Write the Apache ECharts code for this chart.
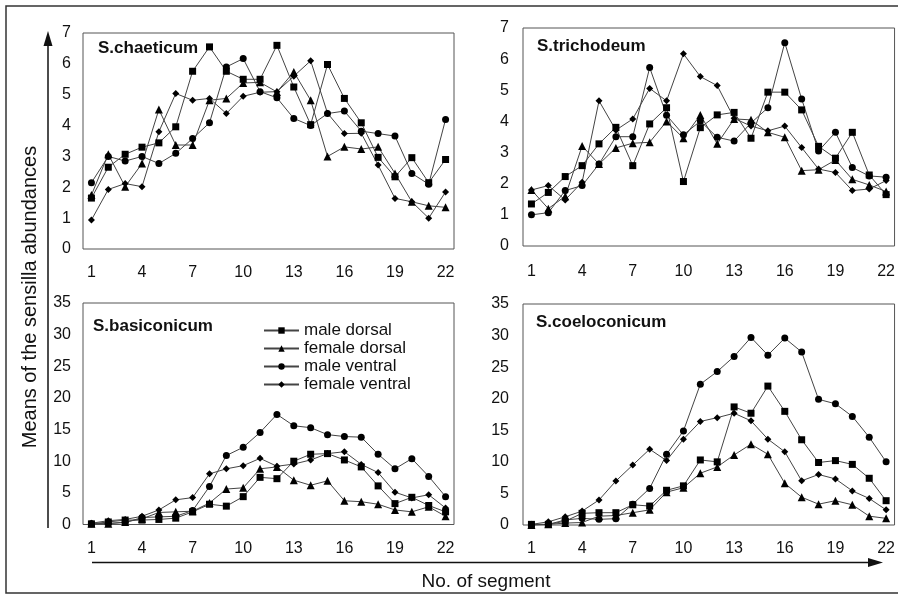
<!DOCTYPE html>
<html>
<head>
<meta charset="utf-8">
<script src="https://cdn.jsdelivr.net/npm/echarts@6/dist/echarts.min.js"></script>
<style>
html,body{margin:0;padding:0;background:#fff;}
#chart{width:898px;height:596px;}
</style>
</head>
<body>
<div id="chart"></div>
<script>
var segments = ['1','2','3','4','5','6','7','8','9','10','11','12','13','14','15','16','17','18','19','20','21','22'];
var seriesNames = ['male dorsal','female dorsal','male ventral','female ventral'];
var panelTitles = ['S.chaeticum','S.trichodeum','S.basiconicum','S.coeloconicum'];

// S.chaeticum
var chaetMaleDorsal   = [1.65,2.65,3.07,3.3,3.44,3.96,5.76,6.55,5.76,5.5,5.5,6.6,5.25,4.03,5.98,4.88,4.09,2.97,2.34,2.96,2.15,2.9];
var chaetFemaleDorsal = [1.75,3.07,2.02,2.77,4.52,3.37,3.37,4.82,4.88,5.38,5.4,5.09,5.74,4.82,3.0,3.31,3.24,3.31,2.45,1.53,1.4,1.35];
var chaetMaleVentral  = [2.15,3.0,2.85,3.0,2.77,3.1,3.58,4.09,5.9,6.17,5.1,4.9,4.23,4.0,4.39,4.47,3.82,3.74,3.66,2.45,2.1,4.2];
var chaetFemaleVentral= [0.94,1.93,2.12,2.02,3.8,5.04,4.82,4.88,4.39,4.95,5.08,5.1,5.6,6.1,4.4,3.74,3.75,2.72,1.64,1.53,1.0,1.85];

// S.trichodeum
var trichMaleDorsal   = [1.35,1.72,2.23,2.58,3.28,3.81,2.58,3.92,4.44,2.07,3.8,4.21,4.29,3.46,4.94,4.94,4.37,3.2,2.82,3.65,2.28,1.65];
var trichFemaleDorsal = [1.8,1.2,1.6,3.21,2.63,3.15,3.3,3.33,4.0,3.46,4.21,3.28,4.08,4.05,3.65,3.49,2.42,2.45,2.76,2.14,1.96,1.75];
var trichMaleVentral  = [1.0,1.07,1.78,1.94,2.63,3.51,3.51,5.73,4.2,3.57,4.01,3.49,3.37,3.95,4.44,6.53,4.72,3.05,3.65,2.52,2.25,2.21];
var trichFemaleVentral= [1.8,1.94,1.48,2.05,4.66,3.72,4.08,5.06,4.66,6.17,5.44,5.15,4.1,3.85,3.7,3.85,3.16,2.47,2.36,1.78,1.83,2.1];

// S.basiconicum
var basicMaleDorsal   = [0.1,0.4,0.7,0.7,0.8,1.0,2.0,3.2,2.9,4.4,7.45,7.24,10.0,11.1,11.2,10.2,9.1,6.1,3.3,4.3,3.0,2.0];
var basicFemaleDorsal = [0.1,0.1,0.4,0.9,1.9,2.0,2.1,3.4,5.6,5.8,8.8,9.1,7.0,6.2,6.9,3.75,3.6,3.2,2.3,2.0,2.8,1.3];
var basicMaleVentral  = [0.1,0.2,0.3,1.1,1.2,1.3,2.2,6.0,10.9,12.2,14.55,17.4,15.6,15.3,14.2,13.9,13.8,11.1,8.8,10.4,7.6,4.4];
var basicFemaleVentral= [0.2,0.6,0.8,1.3,2.3,3.9,4.25,8.0,8.8,9.3,10.45,9.2,9.55,10.2,11.2,11.5,9.5,8.2,5.1,4.2,4.7,2.6];

// S.coeloconicum
var coelMaleDorsal    = [0.1,0.1,0.6,1.85,1.95,1.95,3.2,3.0,5.5,6.2,10.3,10.0,18.7,17.7,22.0,18.0,13.5,9.9,10.2,9.6,7.4,3.85];
var coelFemaleDorsal  = [0.0,0.1,0.3,0.4,1.4,1.5,1.95,2.4,5.2,5.9,8.2,9.2,11.1,12.8,11.2,6.6,4.4,3.3,3.85,3.2,1.4,1.05];
var coelMaleVentral   = [0.0,0.1,0.8,1.05,0.9,1.0,3.3,5.8,11.2,14.9,22.3,24.3,26.7,29.7,26.9,29.6,27.4,19.9,19.2,17.2,13.9,10.0];
var coelFemaleVentral = [0.1,0.5,1.3,2.2,3.96,6.97,9.5,12.0,10.2,13.6,16.4,17.0,17.7,16.5,13.6,11.6,7.0,8.0,7.3,5.4,4.2,2.4];

var yMaxTop = 7, yStepTop = 1;
var yMaxBottom = 35, yStepBottom = 5;

var panelData = [
  [chaetMaleDorsal, chaetFemaleDorsal, chaetMaleVentral, chaetFemaleVentral],
  [trichMaleDorsal, trichFemaleDorsal, trichMaleVentral, trichFemaleVentral],
  [basicMaleDorsal, basicFemaleDorsal, basicMaleVentral, basicFemaleVentral],
  [coelMaleDorsal, coelFemaleDorsal, coelMaleVentral, coelFemaleVentral]
];

var FONT = '"Liberation Sans", Arial, sans-serif';
var grids = [
  {left: 83, top: 33, width: 371, height: 216},
  {left: 523, top: 28, width: 372, height: 218},
  {left: 83, top: 303, width: 371, height: 221.5},
  {left: 523, top: 304, width: 372, height: 221}
];
var symbols = ['rect','triangle','circle','diamond'];
var symbolSizes = [7,8,7,7];

var option = {
  backgroundColor: '#fff',
  animation: false,
  grid: grids.map(function(g){
    return {left: g.left, top: g.top, width: g.width, height: g.height, show: true,
      borderColor: '#555', borderWidth: 1, backgroundColor: 'transparent', containLabel: false};
  }),
  xAxis: grids.map(function(g, i){
    return {type: 'category', gridIndex: i, data: segments, boundaryGap: true,
      axisLine: {show: false}, axisTick: {show: false}, splitLine: {show: false},
      axisLabel: {interval: 2, color: '#111', fontFamily: FONT, fontSize: 16, margin: (i === 1 ? 18 : 16)}};
  }),
  yAxis: grids.map(function(g, i){
    var top = i < 2;
    return {type: 'value', gridIndex: i, min: 0, max: top ? yMaxTop : yMaxBottom,
      interval: top ? yStepTop : yStepBottom,
      axisLine: {show: false}, axisTick: {show: false}, splitLine: {show: false},
      axisLabel: {color: '#111', fontFamily: FONT, fontSize: 16, margin: (i % 2 === 0 ? 12 : 14)}};
  }),
  title: panelTitles.map(function(t, i){
    var pos = [[98, 40],[537, 38],[93, 318],[536, 314]][i];
    return {text: t, left: pos[0], top: pos[1], padding: 0,
      textStyle: {fontFamily: FONT, fontSize: 17, fontWeight: 'bold', color: '#111'}};
  }),
  legend: {
    data: seriesNames, orient: 'vertical', left: 263, top: 322,
    itemWidth: 35, itemHeight: 8, itemGap: 1,
    textStyle: {fontFamily: FONT, fontSize: 17, color: '#111', lineHeight: 17},
    padding: 0
  },
  series: [],
  graphic: [
    {type: 'rect', shape: {x: 6, y: 6, width: 910, height: 587}, style: {fill: 'none', stroke: '#333', lineWidth: 1.5}, silent: true},
    {type: 'line', shape: {x1: 48, y1: 528, x2: 48, y2: 42}, style: {stroke: '#111', lineWidth: 1.5}},
    {type: 'polygon', shape: {points: [[48, 31], [43.5, 46], [52.5, 46]]}, style: {fill: '#111'}},
    {type: 'line', shape: {x1: 92, y1: 562.5, x2: 872, y2: 562.5}, style: {stroke: '#111', lineWidth: 1.5}},
    {type: 'polygon', shape: {points: [[883, 562.5], [868, 558], [868, 567]]}, style: {fill: '#111'}},
    {type: 'text', x: 30, y: 297, rotation: Math.PI / 2,
      style: {text: 'Means of the sensilla abundances', fontFamily: FONT, fontSize: 20, fill: '#111', align: 'center', verticalAlign: 'middle'}},
    {type: 'text', x: 486, y: 582,
      style: {text: 'No. of segment', fontFamily: FONT, fontSize: 19, fill: '#111', align: 'center', verticalAlign: 'middle'}}
  ]
};

panelData.forEach(function(group, p){
  group.forEach(function(values, s){
    option.series.push({
      type: 'line', name: seriesNames[s], xAxisIndex: p, yAxisIndex: p,
      data: values, symbol: symbols[s], symbolSize: symbolSizes[s], showAllSymbol: true,
      lineStyle: {color: '#444', width: 1}, itemStyle: {color: '#000'},
      emphasis: {disabled: true}, z: 3
    });
  });
});

var chart = echarts.init(document.getElementById('chart'), null, {renderer: 'canvas'});
chart.setOption(option);
</script>
</body>
</html>
